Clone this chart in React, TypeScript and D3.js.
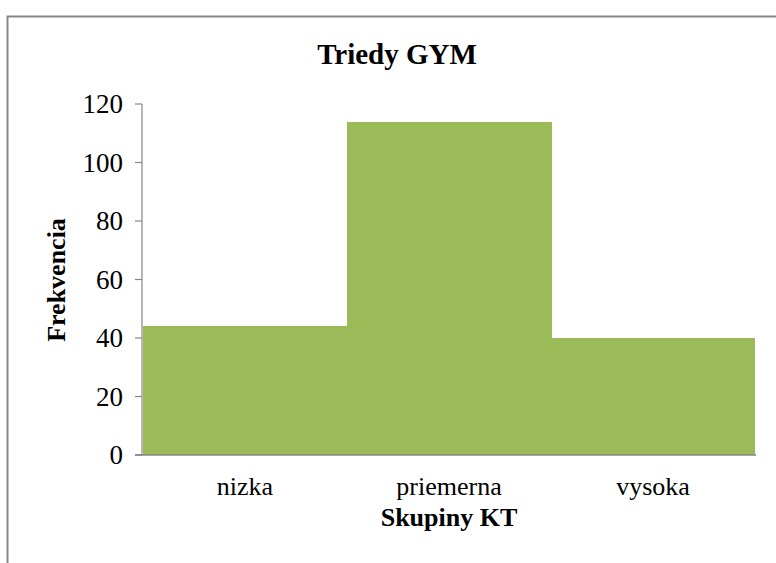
import React from "react";
import * as d3 from "d3";

const categories = ["nizka", "priemerna", "vysoka"];
const values = [44, 114, 40];
const yTicks = [0, 20, 40, 60, 80, 100, 120];
const title = "Triedy GYM";
const xTitle = "Skupiny KT";
const yTitle = "Frekvencia";

const W = 776;
const H = 563;
const FONT = "'Liberation Serif', 'Times New Roman', serif";

export default function App() {
  const x = d3.scaleBand<string>().domain(categories).rangeRound([142, 756]).paddingInner(0).paddingOuter(0);
  const y = d3.scaleLinear().domain([0, 120]).range([455, 104]);
  const axisColor = "#868686";

  return (
    <svg
      width={W}
      height={H}
      style={{ position: "absolute", left: 0, top: 0, background: "#fff" }}
      fontFamily={FONT}
    >
      <rect x={0} y={0} width={W} height={H} fill="#fff" />
      {/* chart area border */}
      <path d={`M7.5,${H + 5} V16.5 H${W + 5}`} fill="none" stroke="#888" strokeWidth={2} />
      {/* title */}
      <text x={397} y={64} textAnchor="middle" fontSize={29} fontWeight="bold" fill="#000">
        {title}
      </text>
      {/* bars */}
      {categories.map((c, i) => (
        <rect
          key={c}
          x={x(c)!}
          y={y(values[i])}
          width={x.bandwidth() + (i < categories.length - 1 ? 0.5 : 0)}
          height={y(0) - y(values[i])}
          fill="#9BBB59"
          shapeRendering="crispEdges"
        />
      ))}
      {/* y axis */}
      <line x1={142} x2={142} y1={y(120)} y2={y(0)} stroke={axisColor} strokeWidth={1.2} />
      {yTicks.map((t) => (
        <g key={t}>
          <line x1={135} x2={142} y1={y(t)} y2={y(t)} stroke={axisColor} strokeWidth={1.2} />
          <text x={123} y={y(t)} dy="0.34em" textAnchor="end" fontSize={27} fill="#000">
            {t}
          </text>
        </g>
      ))}
      {/* x axis */}
      <line x1={135} x2={756} y1={y(0)} y2={y(0)} stroke={axisColor} strokeWidth={1.5} />
      {categories.map((c) => (
        <text key={c} x={x(c)! + x.bandwidth() / 2} y={495} textAnchor="middle" fontSize={26} fill="#000">
          {c}
        </text>
      ))}
      <text x={449} y={526} textAnchor="middle" fontSize={26} fontWeight="bold" fill="#000">
        {xTitle}
      </text>
      <text
        transform={`translate(65,280) rotate(-90)`}
        textAnchor="middle"
        fontSize={26}
        fontWeight="bold"
        fill="#000"
      >
        {yTitle}
      </text>
    </svg>
  );
}
